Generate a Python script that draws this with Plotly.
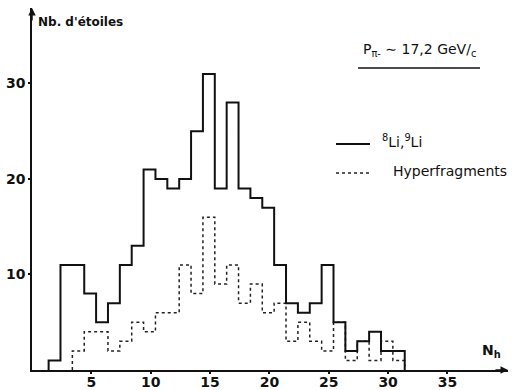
import plotly.graph_objects as go

# N_h bins (integer multiplicity)
nh = list(range(2, 32))
li_counts = [1, 11, 11, 8, 5, 7, 11, 13, 21, 20, 19, 20, 25, 31, 19, 28, 19, 18, 17,
             11, 7, 6, 7, 11, 5, 2, 3, 4, 2, 2]
hyper_counts = [0, 0, 2, 4, 4, 2, 3, 5, 4, 6, 6, 11, 8, 16, 9, 11, 7, 9, 6,
                7, 3, 5, 3, 2, 5, 1, 3, 1, 3, 1]
x_ticks = [5, 10, 15, 20, 25, 30, 35]
y_ticks = [10, 20, 30]

BIN_SHIFT = -0.6  # drawn bin left edge relative to N_h value
FONT = "DejaVu Sans"
INK = "#111"


def step_outline(centers, counts):
    pairs = list(zip(centers, counts))
    while pairs and pairs[0][1] == 0:
        pairs.pop(0)
    lefts = [c + BIN_SHIFT for c, _ in pairs]
    vals = [v for _, v in pairs]
    xs = [lefts[0]] + lefts + [lefts[-1] + 1]
    ys = [0] + vals + [0]
    return xs, ys


fig = go.Figure()
hx, hy = step_outline(nh, hyper_counts)
fig.add_trace(go.Scatter(x=hx, y=hy, mode="lines", line_shape="hv",
                         line=dict(color="#222", width=1.5, dash="dot"),
                         name="Hyperfragments", showlegend=False))
lx, ly = step_outline(nh, li_counts)
fig.add_trace(go.Scatter(x=lx, y=ly, mode="lines", line_shape="hv",
                         line=dict(color=INK, width=2),
                         name="8Li,9Li", showlegend=False))

L, R, T, B = 32, 5, 8, 20
W, H = 513, 390
pw, ph = W - L - R, H - T - B


def px(x):
    return (x - L) / pw


def py(y):
    return (H - B - y) / ph


tickfont = dict(size=14, family=FONT, color=INK, weight="bold")
fig.update_layout(
    width=W, height=H,
    margin=dict(l=L, r=R, t=T, b=B),
    paper_bgcolor="white", plot_bgcolor="white",
    showlegend=False,
    font=dict(family=FONT, color=INK),
    xaxis=dict(range=[0, 40.1], showgrid=False, zeroline=False, automargin=False,
               showline=True, linecolor=INK, linewidth=1.5,
               tickmode="array", tickvals=x_ticks,
               ticks="outside", ticklen=2, tickwidth=2, tickcolor=INK,
               ticklabelstandoff=-4,
               tickfont=tickfont),
    yaxis=dict(range=[0, 37.9], showgrid=False, zeroline=False, automargin=False,
               showline=True, linecolor=INK, linewidth=1.5,
               tickmode="array", tickvals=y_ticks,
               ticks="outside", ticklen=2, tickwidth=2, tickcolor=INK,
               tickfont=tickfont),
)

# axis arrowheads
fig.add_annotation(x=40.1, y=0, xref="x", yref="y", ax=-14, ay=0, text="",
                   showarrow=True, arrowhead=2, arrowsize=1, arrowwidth=1.5,
                   arrowcolor=INK)
fig.add_annotation(x=0, y=37.9, xref="x", yref="y", ax=0, ay=14, text="",
                   showarrow=True, arrowhead=2, arrowsize=1, arrowwidth=1.5,
                   arrowcolor=INK)

# axis titles
fig.add_annotation(x=px(36), y=py(22), xref="paper", yref="paper",
                   text="Nb. d'étoiles", showarrow=False, xanchor="left",
                   yanchor="middle",
                   font=dict(size=12, family=FONT, color=INK, weight="bold"))
fig.add_annotation(x=px(480), y=py(351), xref="paper", yref="paper",
                   text="N<sub>h</sub>", showarrow=False, xanchor="left",
                   yanchor="middle",
                   font=dict(size=14, family=FONT, color=INK, weight="bold"))

# momentum label with underline
fig.add_annotation(x=px(419), y=py(50), xref="paper", yref="paper",
                   text="P<sub>π-</sub> ∼ 17,2 GeV/<sub>c</sub>", showarrow=False,
                   xanchor="center", yanchor="middle",
                   font=dict(size=14, family=FONT, color=INK))
fig.add_shape(type="line", xref="paper", yref="paper",
              x0=px(358), x1=px(480), y0=py(68), y1=py(68),
              line=dict(color=INK, width=1.5))

# legend
fig.add_shape(type="line", xref="paper", yref="paper",
              x0=px(336), x1=px(370), y0=py(144), y1=py(144),
              line=dict(color=INK, width=2))
fig.add_annotation(x=px(380), y=py(141), xref="paper", yref="paper",
                   text="<sup>8</sup>Li,<sup>9</sup>Li", showarrow=False,
                   xanchor="left", yanchor="middle",
                   font=dict(size=14, family=FONT, color=INK))
fig.add_shape(type="line", xref="paper", yref="paper",
              x0=px(336), x1=px(370), y0=py(173), y1=py(173),
              line=dict(color="#222", width=1.5, dash="dot"))
fig.add_annotation(x=px(391), y=py(171), xref="paper", yref="paper",
                   text="Hyperfragments", showarrow=False,
                   xanchor="left", yanchor="middle",
                   font=dict(size=14, family=FONT, color=INK))

fig.write_html("out.html")
